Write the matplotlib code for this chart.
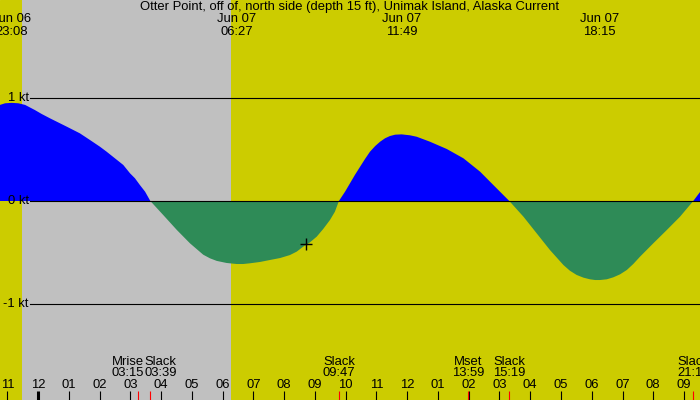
import numpy as np
import matplotlib
matplotlib.use('Agg')
import matplotlib.pyplot as plt
import matplotlib.transforms as mtransforms

plt.rcParams['font.family'] = ['Liberation Sans', 'DejaVu Sans']

title = 'Otter Point, off of, north side (depth 15 ft), Unimak Island, Alaska Current'

# hours since Jun 06 00:00, current in knots
curve_t = [22.76, 22.93, 23.14, 23.36, 23.58, 23.90, 24.12, 24.39, 24.93, 25.36, 25.69,
           26.01, 26.23, 26.50, 26.77, 26.99, 27.15, 27.31, 27.48, 27.65,
           28.07, 28.51, 28.94, 29.37, 29.59, 29.81, 30.13, 30.46, 30.67, 30.89, 31.22,
           31.54, 31.87, 32.19, 32.41, 32.62, 32.84, 33.06, 33.27, 33.49, 33.65, 33.78,
           33.98, 34.14, 34.30, 34.47, 34.63, 34.79, 34.96, 35.12, 35.28, 35.44, 35.61,
           35.82, 36.09, 36.31, 36.74, 37.29, 37.83, 38.37, 38.80, 39.32,
           39.78, 40.21, 40.64, 41.08, 41.29, 41.51, 41.73, 41.94, 42.11, 42.27, 42.49,
           42.70, 42.92, 43.14, 43.35, 43.57, 44.00, 44.44, 44.87, 45.30, 45.52]
curve_v = [0.93, 0.946, 0.95, 0.946, 0.93, 0.88, 0.842, 0.80, 0.72, 0.655, 0.59,
           0.526, 0.477, 0.413, 0.349, 0.268, 0.22, 0.155, 0.09, 0.0,
           -0.136, -0.28, -0.41, -0.52, -0.555, -0.58, -0.60, -0.61, -0.61, -0.603, -0.59,
           -0.571, -0.552, -0.523, -0.49, -0.442, -0.40, -0.345, -0.271, -0.184, -0.104, 0.0,
           0.09, 0.171, 0.252, 0.332, 0.407, 0.477, 0.532, 0.574, 0.607, 0.629, 0.642,
           0.645, 0.636, 0.622, 0.574, 0.503, 0.413, 0.284, 0.155, 0.0,
           -0.152, -0.313, -0.474, -0.62, -0.675, -0.716, -0.742, -0.758, -0.765, -0.765, -0.758,
           -0.739, -0.71, -0.668, -0.61, -0.539, -0.41, -0.281, -0.152, 0.0, 0.087]

night_start = 23.48
night_end = 30.27

now_t = 32.72
now_v = -0.42

peak_dates = ['Jun 06', 'Jun 07', 'Jun 07', 'Jun 07']
peak_times = ['23:08', '06:27', '11:49', '18:15']
peak_hours = [23.13, 30.45, 35.82, 42.25]

event_names = ['Mrise', 'Slack', 'Slack', 'Mset', 'Slack', 'Slack']
event_times = ['03:15', '03:39', '09:47', '13:59', '15:19', '21:18']
event_hours = [27.25, 27.65, 33.78, 37.98, 39.32, 45.30]

tick_hours = list(range(23, 46))
tick_labels = ['11', '12', '01', '02', '03', '04', '05', '06', '07', '08', '09', '10',
               '11', '12', '01', '02', '03', '04', '05', '06', '07', '08', '09']

kt_levels = [1, 0, -1]
kt_labels = ['1 kt', '0 kt', '-1 kt']

W, H = 700, 400
px_per_hour = 30.76
px_per_kt = 103.3
t0 = 23 - 7.3 / px_per_hour

fig = plt.figure(figsize=(7, 4), dpi=100)
ax = fig.add_axes([0, 0, 1, 1])
ax.set_xlim(t0, t0 + W / px_per_hour)
ax.set_ylim((201 - H) / px_per_kt, 201 / px_per_kt)
ax.axis('off')
ax.add_patch(plt.Rectangle((0, 0), 1, 1, transform=ax.transAxes, color='#cccc00', zorder=0))

ax.axvspan(night_start, night_end, color='#c0c0c0', lw=0, zorder=1)

t = np.array(curve_t)
v = np.array(curve_v)
ax.fill_between(t, v, 0, where=v >= 0, interpolate=True, color='#0000ff', lw=0, zorder=2)
ax.fill_between(t, v, 0, where=v <= 0, interpolate=True, color='#2e8b57', lw=0, zorder=2)

fs = 9.4
xa = mtransforms.blended_transform_factory(ax.transData, ax.transAxes)
ay = mtransforms.blended_transform_factory(ax.transAxes, ax.transData)

for lev, lab in zip(kt_levels, kt_labels):
    ax.axhline(lev, xmin=30 / W, xmax=1, color='k', lw=0.8, zorder=3)
    ax.text(28.5 / W, lev, lab, transform=ay, ha='right', va='center', fontsize=fs, zorder=4)

ax.plot(now_t, now_v, marker='+', ms=9, mew=1, color='k', zorder=5)

# hour ticks along the bottom
for h, lab in zip(tick_hours, tick_labels):
    lw = 2.2 if h % 24 == 0 else 0.8
    ax.plot([h, h], [0, 9 / H], transform=xa, color='k', lw=lw, solid_capstyle='butt', zorder=4)
    ax.text(h, 1 - 385 / H, lab, transform=xa, ha='center', va='center', fontsize=fs)

ax.vlines(event_hours, 0, 9 / H, transform=xa, color='red', lw=0.8, zorder=5)

# push overlapping event labels apart
pos = list(event_hours)
gap = 33 / px_per_hour
for i in range(len(pos) - 1):
    d = pos[i + 1] - pos[i]
    if d < gap:
        pos[i] -= (gap - d) / 2
        pos[i + 1] += (gap - d) / 2
for x, name, tm in zip(pos, event_names, event_times):
    ax.text(x, 1 - 361.7 / H, name, transform=xa, ha='center', va='center', fontsize=fs)
    ax.text(x, 1 - 373.3 / H, tm, transform=xa, ha='center', va='center', fontsize=fs)

for x, d, tm in zip(peak_hours, peak_dates, peak_times):
    ax.text(x, 1 - 19.3 / H, d, transform=xa, ha='center', va='center', fontsize=fs)
    ax.text(x, 1 - 31.7 / H, tm, transform=xa, ha='center', va='center', fontsize=fs)

ax.text(0.5, 1 - 7.3 / H, title, transform=ax.transAxes, ha='center', va='center', fontsize=fs)

fig.savefig('out.png', dpi=100)
